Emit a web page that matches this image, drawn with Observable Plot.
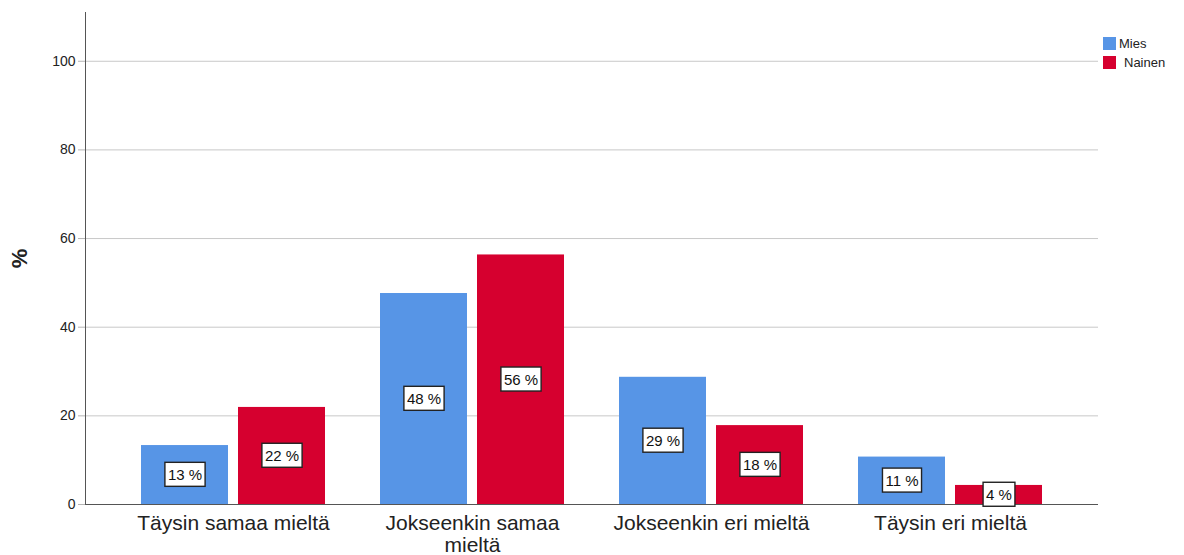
<!DOCTYPE html>
<html><head><meta charset="utf-8">
<script src="https://cdn.jsdelivr.net/npm/d3@7"></script>
<script src="https://cdn.jsdelivr.net/npm/@observablehq/plot@0.6"></script>
<style>
body{margin:0;background:#fff;font-family:"Liberation Sans",Arial,sans-serif;}
#wrap{position:relative;width:1184px;height:555px;overflow:hidden;}
.legend{position:absolute;left:1103px;top:34px;font-size:13px;color:#222;line-height:19px;}
.legend .row{display:flex;align-items:center;height:19px;}
.legend .sw{display:inline-block;width:13px;height:13px;margin-right:3px;}
</style></head><body><div id="wrap"></div>
<script>
const categories = ["Täysin samaa mieltä","Jokseenkin samaa mieltä","Jokseenkin eri mieltä","Täysin eri mieltä"];
const tickLabels = ["Täysin samaa mieltä","Jokseenkin samaa\nmieltä","Jokseenkin eri mieltä","Täysin eri mieltä"];
const series = ["Mies","Nainen"];
const miesValues = [13.3,47.6,28.7,10.7];
const nainenValues = [21.9,56.3,17.8,4.3];
const colors = ["#5795e6","#d6002f"];
const yTicks = [0,20,40,60,80,100];

const mies = categories.map((c,i)=>({category:c, gender:series[0], value:miesValues[i]}));
const nainen = categories.map((c,i)=>({category:c, gender:series[1], value:nainenValues[i]}));
const labelFmt = d => Math.round(d.value) + " %";

const chart = Plot.plot({
  width:1184, height:555,
  marginLeft:85, marginRight:86, marginTop:12, marginBottom:51,
  style:{fontFamily:"'Liberation Sans', Arial, sans-serif", background:"#fff", color:"#222"},
  x:{domain:categories, padding:0.23, label:null},
  y:{domain:[0,111], label:null},
  color:{domain:series, range:colors},
  marks:[
    Plot.gridY(yTicks.slice(1), {stroke:"#c8c8c8", strokeOpacity:1, strokeWidth:1}),
    Plot.axisY(yTicks, {tickSize:7, tickPadding:3, fontSize:14, stroke:"#b5b5b5", fill:"#222",
      label:"%", labelAnchor:"center", labelOffset:74, labelArrow:"none"}),
    Plot.axisX({tickSize:0, tickPadding:9, fontSize:21, fill:"#222",
      tickFormat: d => tickLabels[categories.indexOf(d)], lineHeight:1.08}),
    Plot.barY(mies, {x:"category", y:"value", fill:"gender", insetRight:97}),
    Plot.barY(nainen, {x:"category", y:"value", fill:"gender", insetLeft:97}),
    Plot.frame({anchor:"left", stroke:"#555"}),
    Plot.ruleY([0], {stroke:"#555"}),
    Plot.text(mies, {x:"category", y:d=>d.value/2, text:labelFmt, dx:-48.5, fontSize:15, fill:"#111", className:"vlbl"}),
    Plot.text(nainen, {x:"category", y:d=>d.value/2, text:labelFmt, dx:48.5, fontSize:15, fill:"#111", className:"vlbl"})
  ]
});
const wrap = document.getElementById("wrap");
wrap.appendChild(chart);

// y-axis label styling
d3.select(chart).selectAll('g[aria-label="y-axis label"] text')
  .attr("font-size", 22).attr("font-weight","bold");

// boxes behind value labels
d3.select(chart).selectAll("g.vlbl text").each(function(){
  const b = this.getBBox();
  const padX = 3, padY = 3.5;
  const r = document.createElementNS("http://www.w3.org/2000/svg","rect");
  r.setAttribute("x", b.x - padX);
  r.setAttribute("y", b.y - padY);
  r.setAttribute("width", b.width + 2*padX);
  r.setAttribute("height", b.height + 2*padY);
  r.setAttribute("fill", "#fff");
  r.setAttribute("stroke", "#222");
  r.setAttribute("stroke-width", 1.4);
  const t = this.getAttribute("transform");
  if (t) r.setAttribute("transform", t);
  this.parentNode.insertBefore(r, this);
});

// legend
const leg = document.createElement("div");
leg.className = "legend";
series.forEach((s,i)=>{
  const row = document.createElement("div");
  row.className = "row";
  const sw = document.createElement("span");
  sw.className = "sw"; sw.style.background = colors[i];
  if (i === 1) sw.style.marginRight = "8px";
  row.appendChild(sw);
  row.appendChild(document.createTextNode(s));
  leg.appendChild(row);
});
wrap.appendChild(leg);
</script></body></html>
